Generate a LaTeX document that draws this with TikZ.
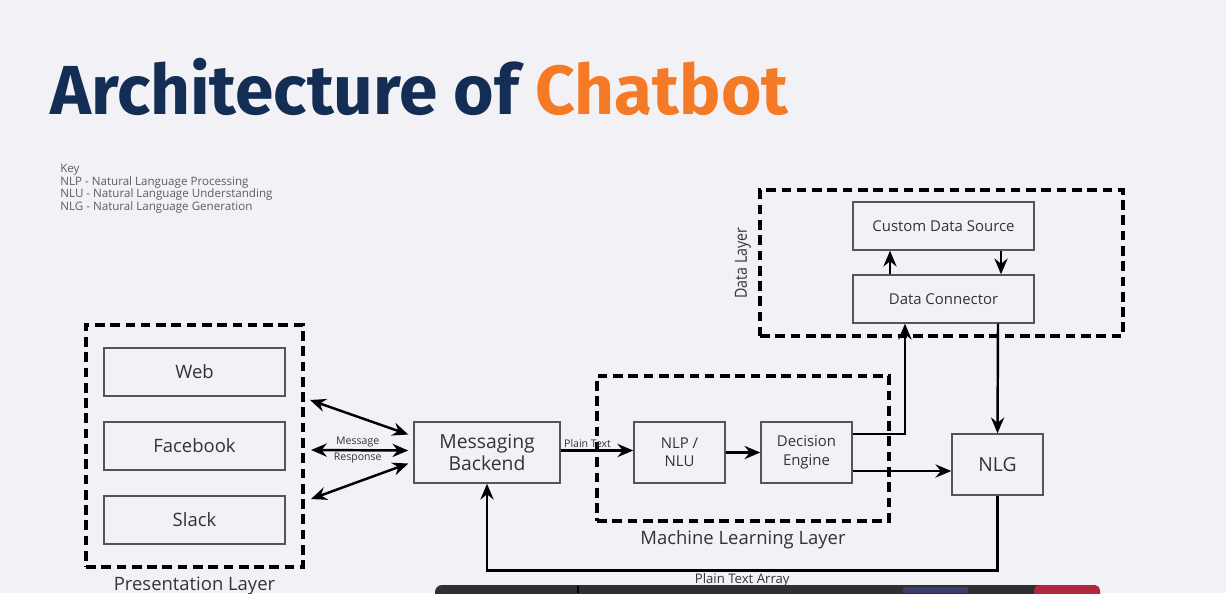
\documentclass[tikz,border=0pt]{standalone}
\usepackage{fontspec}
\setmainfont{Open Sans}
\newfontfamily\headfont{Fira Sans}
\usepackage{tikz}
\usetikzlibrary{arrows.meta,positioning,calc}
\definecolor{Navy}{HTML}{142D55}
\definecolor{Tangerine}{HTML}{F47A26}
\definecolor{Paper}{HTML}{F2F2F6}
\definecolor{Ink}{HTML}{333333}
\definecolor{BoxEdge}{HTML}{555555}
\definecolor{KeyGrey}{HTML}{5E5E5E}
\definecolor{BarDark}{HTML}{2E2E33}
\definecolor{BarBlue}{HTML}{3A3E6C}
\definecolor{BarRed}{HTML}{B0283F}

\begin{document}
\begin{tikzpicture}[
  x=0.02cm,y=-0.02cm,
  block/.style={draw=BoxEdge,line width=0.8pt,text=Ink,align=center,inner sep=0pt,
    minimum height=1.22cm,font=\fontsize{8.5}{10.5}\selectfont},
  platform/.style={block,minimum width=3.62cm,minimum height=0.96cm,font=\fontsize{10.5}{12}\selectfont},
  layer/.style={draw=black,line width=1.8pt,dash pattern=on 5.5pt off 3.2pt,inner sep=0pt},
  caption/.style={text=Ink,inner sep=0pt,font=\fontsize{10.5}{12}\selectfont},
  note/.style={text=Ink,inner sep=1pt,font=\fontsize{6}{7}\selectfont},
  link/.style={line width=1.4pt,-{Stealth[length=9pt,width=7.5pt,inset=3pt]}},
  twoway/.style={line width=1.4pt,{Stealth[length=9pt,width=7.5pt,inset=3pt]}-{Stealth[length=9pt,width=7.5pt,inset=3pt]}}
]
\fill[Paper] (0,0) rectangle (1226,593);
\useasboundingbox (0,0) rectangle (1226,593);

% heading and key
\node[anchor=base west,inner sep=0pt,font=\headfont\bfseries\fontsize{39.5}{44}\selectfont] (title) at (50,114)
  {\textcolor{Navy}{Architecture of} \textcolor{Tangerine}{Chatbot}};
\node[anchor=north west,align=left,inner sep=0pt,text=KeyGrey,font=\fontsize{6.6}{7.2}\selectfont] (key) at (60,164)
  {Key\\NLP - Natural Language Processing\\NLU - Natural Language Understanding\\NLG - Natural Language Generation};

% layers
\node[layer,minimum width=4.34cm,minimum height=4.84cm] (present) at (194.5,446) {};
\node[caption,below=1.6mm of present] (presentlab) {Presentation Layer};
\node[layer,minimum width=5.84cm,minimum height=2.9cm] (mlayer) at (743,448.5) {};
\node[caption,below=1.6mm of mlayer] (mlayerlab) {Machine Learning Layer};
\node[layer,minimum width=7.26cm,minimum height=2.92cm] (dlayer) at (941.5,263) {};
\node[caption,rotate=90,font=\fontsize{9.5}{10}\selectfont,xscale=0.85] (dlayerlab) at (743,263) {Data Layer};

% blocks
\foreach \name/\lab/\y in {web/Web/372,facebook/Facebook/446,slack/Slack/520}
  \node[platform] (\name) at (194.5,\y) {\lab};
\node[block,minimum width=2.92cm,font=\fontsize{11}{13}\selectfont] (backend) at (487,452.5) {Messaging\\Backend};
\node[block,minimum width=1.82cm] (nlp) at (679.5,452.5) {NLP /\\NLU};
\node[block,minimum width=1.82cm] (engine) at (806.5,452.5) {Decision\\Engine};
\node[block,minimum width=1.82cm,font=\fontsize{11}{13}\selectfont] (nlg) at (997.5,464.5) {NLG};
\node[platform,font=\fontsize{8.5}{10}\selectfont] (source) at (943.5,226) {Custom Data Source};
\node[platform,font=\fontsize{8.5}{10}\selectfont] (connector) at (943.5,299) {Data Connector};

% connectors
\coordinate (webport) at (310,400);
\coordinate (fbport) at (311,450);
\coordinate (slackport) at (311,499);
\draw[twoway] (webport) -- ($(backend.west)+(-5,-18)$);
\draw[twoway] (fbport) -- ($(backend.west)+(-5,-2)$)
  node[note,above,pos=0.48] {Message} node[note,below,pos=0.48] {Response};
\draw[twoway] (slackport) -- ($(backend.west)+(-5,11)$);
\draw[link] ($(backend.east)+(0,-2)$) -- node[note,above,pos=0.37] {Plain Text} ($(nlp.west)+(0,-2)$);
\draw[link] (nlp.east) -- (engine.west);
\draw[link] ($(engine.east)+(0,-18.5)$) -| ($(connector.south)+(-38.5,0)$);
\draw[link] ($(engine.east)+(0,18.5)$) -- ($(nlg.west)+(0,6.5)$);
\draw[link] ($(connector.south)+(54.5,0)$) -- (nlg.north);
\draw[link] ($(connector.north)+(-53.5,0)$) -- ($(source.south)+(-53.5,0)$);
\draw[link] ($(source.south)+(57.5,0)$) -- ($(connector.north)+(57.5,0)$);
\draw[link] (nlg.south) -- ++(0,75) -| node[pos=0.25,below=1pt,inner sep=0pt,text=Ink,font=\fontsize{7.5}{9}\selectfont] {Plain Text Array} (backend.south);

% player bar along the bottom edge
\begin{scope}
\clip (0,0) rectangle (1226,593);
\fill[BarDark,rounded corners=4pt] (435,585) rectangle (1100,605);
\fill[BarBlue] (903,587) rectangle (968,593);
\fill[BarRed,rounded corners=3pt] (1034,585) rectangle (1100,605);
\draw[black,line width=0.6pt] (578,586) -- (578,593);
\end{scope}
\end{tikzpicture}
\end{document}
